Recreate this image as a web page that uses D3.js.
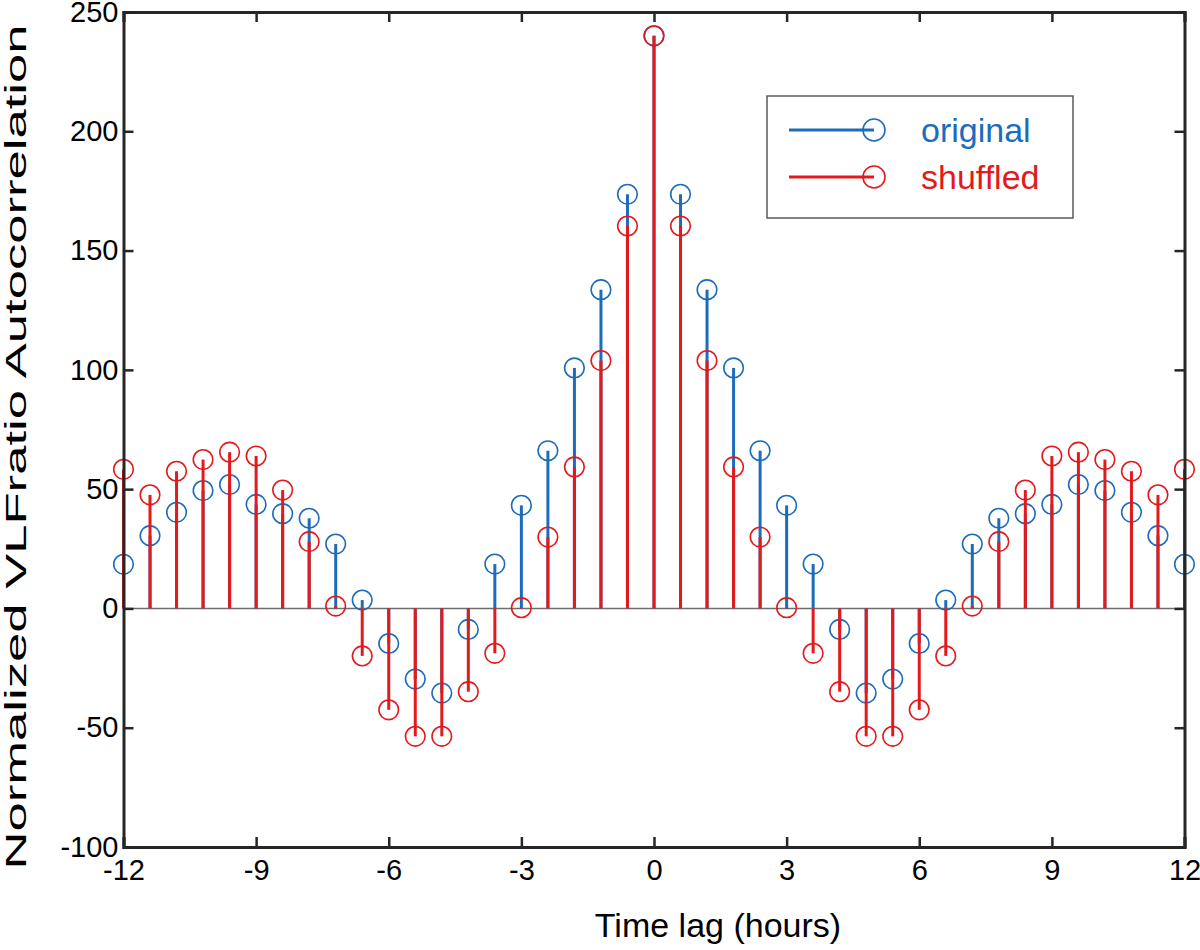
<!DOCTYPE html>
<html>
<head>
<meta charset="utf-8">
<script src="https://cdn.jsdelivr.net/npm/d3@7"></script>
<style>
  html, body { margin: 0; padding: 0; background: #fff; }
  svg { display: block; }
  text { font-family: "Liberation Sans", Arial, sans-serif; }
</style>
</head>
<body>
<svg id="chart" width="1200" height="950"></svg>
<script>
// ---- data ----
const lags = [-12, -11.4, -10.8, -10.2, -9.6, -9, -8.4, -7.8, -7.2, -6.6, -6, -5.4, -4.8, -4.2, -3.6, -3, -2.4, -1.8, -1.2, -0.6,
              0, 0.6, 1.2, 1.8, 2.4, 3, 3.6, 4.2, 4.8, 5.4, 6, 6.6, 7.2, 7.8, 8.4, 9, 9.6, 10.2, 10.8, 11.4, 12];
const original = [18.5, 30.5, 40.3, 49.4, 51.9, 43.6, 39.7, 37.8, 27, 3.5, -14.7, -29.6, -35.5, -8.8, 18.6, 43.2, 66.1, 100.8, 133.6, 173.6,
                  240, 173.6, 133.6, 100.8, 66.1, 43.2, 18.6, -8.8, -35.5, -29.6, -14.7, 3.5, 27, 37.8, 39.7, 43.6, 51.9, 49.4, 40.3, 30.5, 18.5];
const shuffled = [58.3, 47.6, 57.5, 62.4, 65.5, 63.9, 49.6, 28, 1, -19.9, -42.5, -53.6, -53.6, -34.9, -18.8, 0.3, 29.9, 59.3, 103.9, 160.3,
                  240, 160.3, 103.9, 59.3, 29.9, 0.3, -18.8, -34.9, -53.6, -53.6, -42.5, -19.9, 1, 28, 49.6, 63.9, 65.5, 62.4, 57.5, 47.6, 58.3];
const xTicks = [-12, -9, -6, -3, 0, 3, 6, 9, 12];
const yTicks = [-100, -50, 0, 50, 100, 150, 200, 250];
const seriesNames = ["original", "shuffled"];
const seriesColors = ["#1c6cbd", "#e3191b"];
const xLabel = "Time lag (hours)";
const yLabel = "Normalized VLFratio  Autocorrelation";

// ---- layout ----
const svg = d3.select("#chart");
const L = 123.5, R = 1184.5, T = 12, B = 847;
const x = d3.scaleLinear().domain([-12, 12]).range([L, R]);
const y = d3.scaleLinear().domain([-100, 250]).range([B, T]);
const axisColor = "#262626";

// baseline (zero line)
svg.append("line")
  .attr("x1", L).attr("x2", R)
  .attr("y1", y(0)).attr("y2", y(0))
  .attr("stroke", "#6e6e6e").attr("stroke-width", 1.6);

// stems
const series = [original, shuffled];
series.forEach((vals, si) => {
  const g = svg.append("g");
  const pts = lags.map((l, i) => ({ l, v: vals[i] }));
  g.selectAll("line").data(pts).join("line")
    .attr("x1", d => x(d.l)).attr("x2", d => x(d.l))
    .attr("y1", y(0)).attr("y2", d => y(d.v))
    .attr("stroke", seriesColors[si]).attr("stroke-width", 3);
  g.selectAll("circle").data(pts).join("circle")
    .attr("cx", d => x(d.l)).attr("cy", d => y(d.v))
    .attr("r", 9.8)
    .attr("fill", "none")
    .attr("stroke", seriesColors[si]).attr("stroke-width", 1.6);
});

// axes (box with inward ticks)
const fontTick = 29;
const axB = svg.append("g").attr("transform", `translate(0,${B})`)
  .call(d3.axisBottom(x).tickValues(xTicks).tickSize(-10).tickPadding(12).tickFormat(d3.format("d")));
const axT = svg.append("g").attr("transform", `translate(0,${T})`)
  .call(d3.axisTop(x).tickValues(xTicks).tickSize(-10).tickFormat(""));
const axL = svg.append("g").attr("transform", `translate(${L},0)`)
  .call(d3.axisLeft(y).tickValues(yTicks).tickSize(-10).tickPadding(5).tickFormat(d3.format("d")));
const axR = svg.append("g").attr("transform", `translate(${R},0)`)
  .call(d3.axisRight(y).tickValues(yTicks).tickSize(-10).tickFormat(""));
[axB, axT, axL, axR].forEach(a => {
  a.select(".domain").attr("stroke", axisColor).attr("stroke-width", 3);
  a.selectAll(".tick line").attr("stroke", axisColor).attr("stroke-width", 2.5);
  a.selectAll(".tick text").attr("fill", "#000").attr("font-size", fontTick)
    .attr("font-family", "'Liberation Sans', Arial, sans-serif");
});
axB.selectAll(".tick text").text(d => d < 0 ? "-" + Math.abs(d) : d);
axL.selectAll(".tick text").text(d => d < 0 ? "-" + Math.abs(d) : d);

// axis labels
svg.append("text")
  .attr("x", 718).attr("y", 937)
  .attr("text-anchor", "middle")
  .attr("font-size", 34).attr("fill", "#000")
  .text(xLabel);
svg.append("text")
  .attr("transform", `translate(26,447) rotate(-90)`)
  .attr("text-anchor", "middle")
  .attr("font-size", 30).attr("fill", "#000")
  .attr("textLength", 845).attr("lengthAdjust", "spacingAndGlyphs")
  .text(yLabel);

// legend
const lg = svg.append("g");
lg.append("rect")
  .attr("x", 767).attr("y", 96).attr("width", 306).attr("height", 122)
  .attr("fill", "#fff").attr("stroke", "#5a5a5a").attr("stroke-width", 1.5);
seriesNames.forEach((name, i) => {
  const ly = 130 + i * 47;
  lg.append("line")
    .attr("x1", 789).attr("x2", 874).attr("y1", ly).attr("y2", ly)
    .attr("stroke", seriesColors[i]).attr("stroke-width", 3);
  lg.append("circle")
    .attr("cx", 874).attr("cy", ly).attr("r", 11)
    .attr("fill", "none").attr("stroke", seriesColors[i]).attr("stroke-width", 1.6);
  lg.append("text")
    .attr("x", 921).attr("y", ly + 12)
    .attr("font-size", 34).attr("fill", seriesColors[i])
    .text(name);
});
</script>
</body>
</html>
